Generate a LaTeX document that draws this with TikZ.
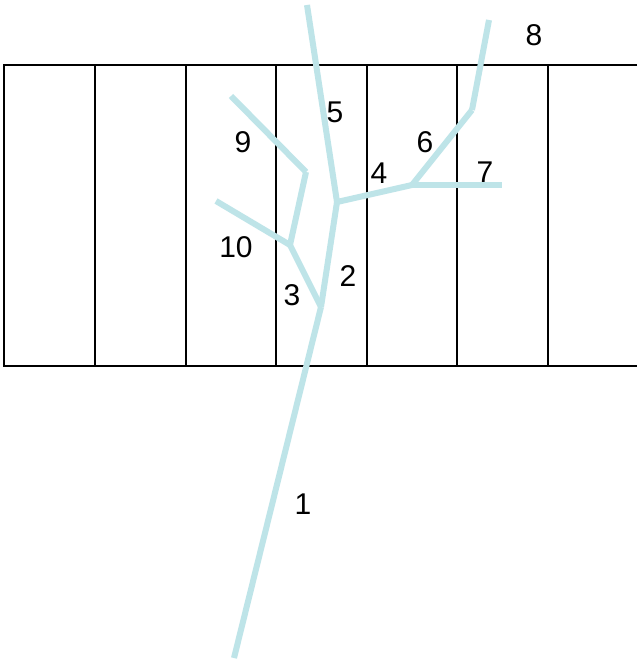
\documentclass[tikz,border=0pt]{standalone}
\usepackage{fontspec}
\setmainfont{Liberation Sans}
\definecolor{branch}{RGB}{190,228,232}
\begin{document}
\begin{tikzpicture}[x=1pt,y=-1pt,
  cell/.style={draw=black,line width=2pt},
  br/.style={draw=branch,line width=6pt,line cap=butt,line join=miter},
  lbl/.style={font=\fontsize{30}{30}\selectfont,inner sep=0pt,text=black}]
\useasboundingbox (0,0) rectangle (637,661);
\fill[white] (0,0) rectangle (637,661);
% cells
\draw[cell] (637,65) -- (4,65) -- (4,366) -- (637,366);
\foreach \x in {95,186,276,367,457,548} \draw[cell] (\x,65) -- (\x,366);
% tree points
\coordinate (root) at (234,658);
\coordinate (a) at (321,307);
\coordinate (b) at (337,202);
\coordinate (c) at (290,245);
\coordinate (d) at (306,172);
\coordinate (e9) at (231,96);
\coordinate (e10) at (216,201);
\coordinate (e5) at (307,5);
\coordinate (f) at (412,185);
\coordinate (e7) at (502,185);
\coordinate (g) at (472,110);
\coordinate (e8) at (489,20);
\draw[br] (root) -- (a);
\draw[br] (a) -- (b);
\draw[br] (a) -- (c);
\draw[br] (c) -- (d);
\draw[br] (d) -- (e9);
\draw[br] (c) -- (e10);
\draw[br] (b) -- (e5);
\draw[br] (b) -- (f);
\draw[br] (f) -- (e7);
\draw[br] (f) -- (g);
\draw[br] (g) -- (e8);
% labels
\node[lbl] (l1) at (303,504) {1};
\node[lbl] (l2) at (348,276) {2};
\node[lbl] (l3) at (292,295) {3};
\node[lbl] (l4) at (379,173) {4};
\node[lbl] (l5) at (335,112) {5};
\node[lbl] (l6) at (425,142) {6};
\node[lbl] (l7) at (485,172) {7};
\node[lbl] (l8) at (534,35) {8};
\node[lbl] (l9) at (243,142) {9};
\node[lbl] (l10) at (236,247) {10};
\end{tikzpicture}
\end{document}
